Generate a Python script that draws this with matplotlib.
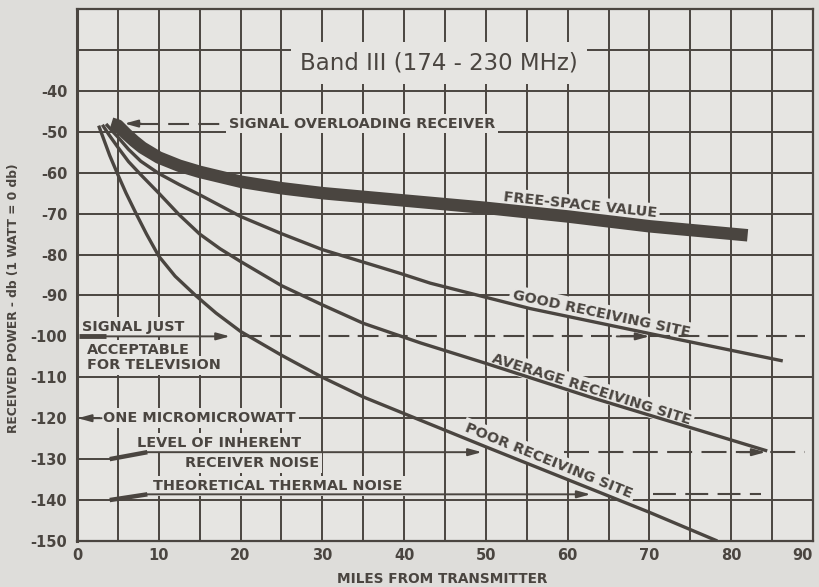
import matplotlib.pyplot as plt

plt.rcParams["axes.unicode_minus"] = False

# values: miles from transmitter vs received power (db re 1 watt)
free_x = [4.2, 5, 6, 7, 8, 10, 12.5, 15, 20, 25, 30, 40, 50, 60, 70, 82]
free_y = [-48, -48.5, -50.5, -52.3, -53.9, -56.3, -58.3, -59.8, -62.2, -63.8, -65, -66.8, -68.6, -70.7, -73.1, -75.3]

good_x = [3.55, 4.3, 5, 6.3, 7.8, 10, 12.5, 15, 20, 25, 30, 39.5, 43.2, 55.4, 70, 86.3]
good_y = [-48.1, -49.8, -51.3, -54.3, -57.2, -60.2, -62.9, -65.4, -70.7, -74.9, -78.8, -84.6, -87, -93.2, -99.3, -106]

avg_x = [3.1, 4, 5, 6.3, 7.8, 10, 12.5, 15, 17.5, 20, 25, 30, 35, 42, 50, 63, 84.4]
avg_y = [-48.3, -51, -53.8, -57.3, -60.5, -65, -70.3, -75, -78.6, -81.7, -87.6, -92.3, -96.8, -101.6, -106.6, -115, -128]

poor_x = [2.65, 3.3, 4, 5, 6, 7.3, 8.5, 10, 12, 14.5, 17, 20, 25, 30, 35, 42, 50, 60, 70, 78.3]
poor_y = [-48.5, -52, -55.8, -60.5, -65, -70.3, -75, -80.4, -85.3, -90, -94.3, -98.8, -104.6, -110, -114.8, -120.5, -127, -135, -143, -150]

x_ticks = [0, 10, 20, 30, 40, 50, 60, 70, 80, 90]
y_ticks = [-150, -140, -130, -120, -110, -100, -90, -80, -70, -60, -50, -40]

# reference levels
overload_level = -48
acceptable_level = -100
micromicrowatt_level = -120
receiver_noise_level = -128.3
thermal_noise_level = -138.6

ink = "#4a4540"
paper = "#e6e5e2"

fig = plt.figure(figsize=(8.2, 5.87), dpi=100, facecolor="#dedddA")
ax = fig.add_axes([0.0939, 0.0784, 0.8976, 0.9063])
ax.set_facecolor(paper)
ax.set_xlim(0, 90)
ax.set_ylim(-150, -20)

# grid (the -100 and -130 lines are replaced by the reference lines)
for gx in range(0, 91, 5):
    ax.axvline(gx, color=ink, lw=1.4, zorder=1)
for gy in range(-150, -19, 10):
    if gy in (-100, -130):
        continue
    ax.axhline(gy, color=ink, lw=1.4, zorder=1)
ax.plot([0, 4], [-130, -130], color=ink, lw=1.4, zorder=1)

for s in ax.spines.values():
    s.set_color(ink)
    s.set_linewidth(1.6)
ax.spines["left"].set_linewidth(2.2)

# curves
ax.plot(free_x, free_y, color=ink, lw=9, solid_capstyle="butt", solid_joinstyle="round", zorder=4)
for cx, cy in [(good_x, good_y), (avg_x, avg_y), (poor_x, poor_y)]:
    ax.plot(cx, cy, color=ink, lw=2.4, solid_capstyle="butt", solid_joinstyle="round", zorder=4)

lab = dict(color=ink, fontsize=10.4, fontweight="bold", zorder=3)
box = dict(boxstyle="square,pad=0.2", fc=paper, ec="none")
arr = dict(arrowstyle="-|>,head_length=0.8,head_width=0.22", color=ink, lw=1.4,
           shrinkA=0, shrinkB=0)

def arrow(x0, x1, y):
    ax.annotate("", xy=(x1, y), xytext=(x0, y), arrowprops=arr, zorder=5)

# title
ax.text(44.3, -33.2, "Band III (174 - 230 MHz)", ha="center", va="center", color=ink,
        fontsize=16.5, zorder=3, bbox=dict(boxstyle="square,pad=0.4", fc=paper, ec="none"))

# signal overloading receiver
ax.plot([7.5, 17.5], [overload_level] * 2, color=ink, lw=1.5, dashes=(10, 4.5), zorder=5)
arrow(7.8, 5.8, overload_level)
ax.text(18.6, overload_level, "SIGNAL OVERLOADING RECEIVER", ha="left", va="center", bbox=box, **lab)

# curve labels
ax.text(61.5, -68.0, "FREE-SPACE VALUE", ha="center", va="center", rotation=-6, bbox=box, **lab)
ax.text(64.1, -94.4, "GOOD RECEIVING SITE", ha="center", va="center", rotation=-12, bbox=box, **lab)
ax.text(62.9, -112.9, "AVERAGE RECEIVING SITE", ha="center", va="center", rotation=-17.5, bbox=box, **lab)
ax.text(57.7, -130.4, "POOR RECEIVING SITE", ha="center", va="center", rotation=-22, bbox=box, **lab)

# signal just acceptable
ax.plot([0.2, 3.5], [acceptable_level] * 2, color=ink, lw=3.5, solid_capstyle="butt", zorder=5)
arrow(3.5, 18.7, acceptable_level)
ax.plot([20, 89], [acceptable_level] * 2, color=ink, lw=1.5, dashes=(10, 4), zorder=5)
arrow(66, 70, acceptable_level)
ax.text(0.6, -97.8, "SIGNAL JUST", ha="left", va="center", bbox=box, **lab)
ax.text(1.2, -103.4, "ACCEPTABLE", ha="left", va="center", bbox=box, **lab)
ax.text(1.2, -107.1, "FOR TELEVISION", ha="left", va="center", bbox=box, **lab)

# one micromicrowatt
arrow(3.0, 0.1, micromicrowatt_level)
ax.text(3.2, micromicrowatt_level, "ONE MICROMICROWATT", ha="left", va="center", bbox=box, **lab)

# inherent receiver noise
ax.plot([4, 8.6], [-130, receiver_noise_level], color=ink, lw=3.2, solid_capstyle="butt", zorder=5)
arrow(8.6, 49.5, receiver_noise_level)
ax.plot([59.5, 89], [receiver_noise_level] * 2, color=ink, lw=1.5, dashes=(12, 4.5), zorder=5)
arrow(81, 84.2, receiver_noise_level)
ax.text(7.3, -126.1, "LEVEL OF INHERENT", ha="left", va="center", bbox=box, **lab)
ax.text(13.2, -130.9, "RECEIVER NOISE", ha="left", va="center", bbox=box, **lab)

# theoretical thermal noise
ax.plot([4, 8.6], [-140, thermal_noise_level], color=ink, lw=3.2, solid_capstyle="butt", zorder=5)
arrow(8.6, 62.8, thermal_noise_level)
ax.plot([70.4, 83.6], [thermal_noise_level] * 2, color=ink, lw=1.5, dashes=(11, 4.5), zorder=5)
ax.text(9.3, -136.5, "THEORETICAL THERMAL NOISE", ha="left", va="center", bbox=box, **lab)

# axes labels
ax.set_xticks(x_ticks)
ax.set_yticks(y_ticks)
ax.tick_params(length=0, labelsize=10.5, labelcolor=ink)
ax.tick_params(axis="x", pad=5)
ax.tick_params(axis="y", pad=7)
for t in ax.get_xticklabels() + ax.get_yticklabels():
    t.set_fontweight("bold")
ax.get_xticklabels()[-1].set_horizontalalignment("right")
ax.set_xlabel("MILES FROM TRANSMITTER", fontsize=9.8, fontweight="bold", color=ink)
ax.xaxis.set_label_coords(0.496, -0.058)
ax.set_ylabel("RECEIVED POWER - db (1 WATT = 0 db)", fontsize=8.8, fontweight="bold", color=ink)
ax.yaxis.set_label_coords(-0.078, 0.457)

fig.savefig("out.png", dpi=100, facecolor=fig.get_facecolor())
